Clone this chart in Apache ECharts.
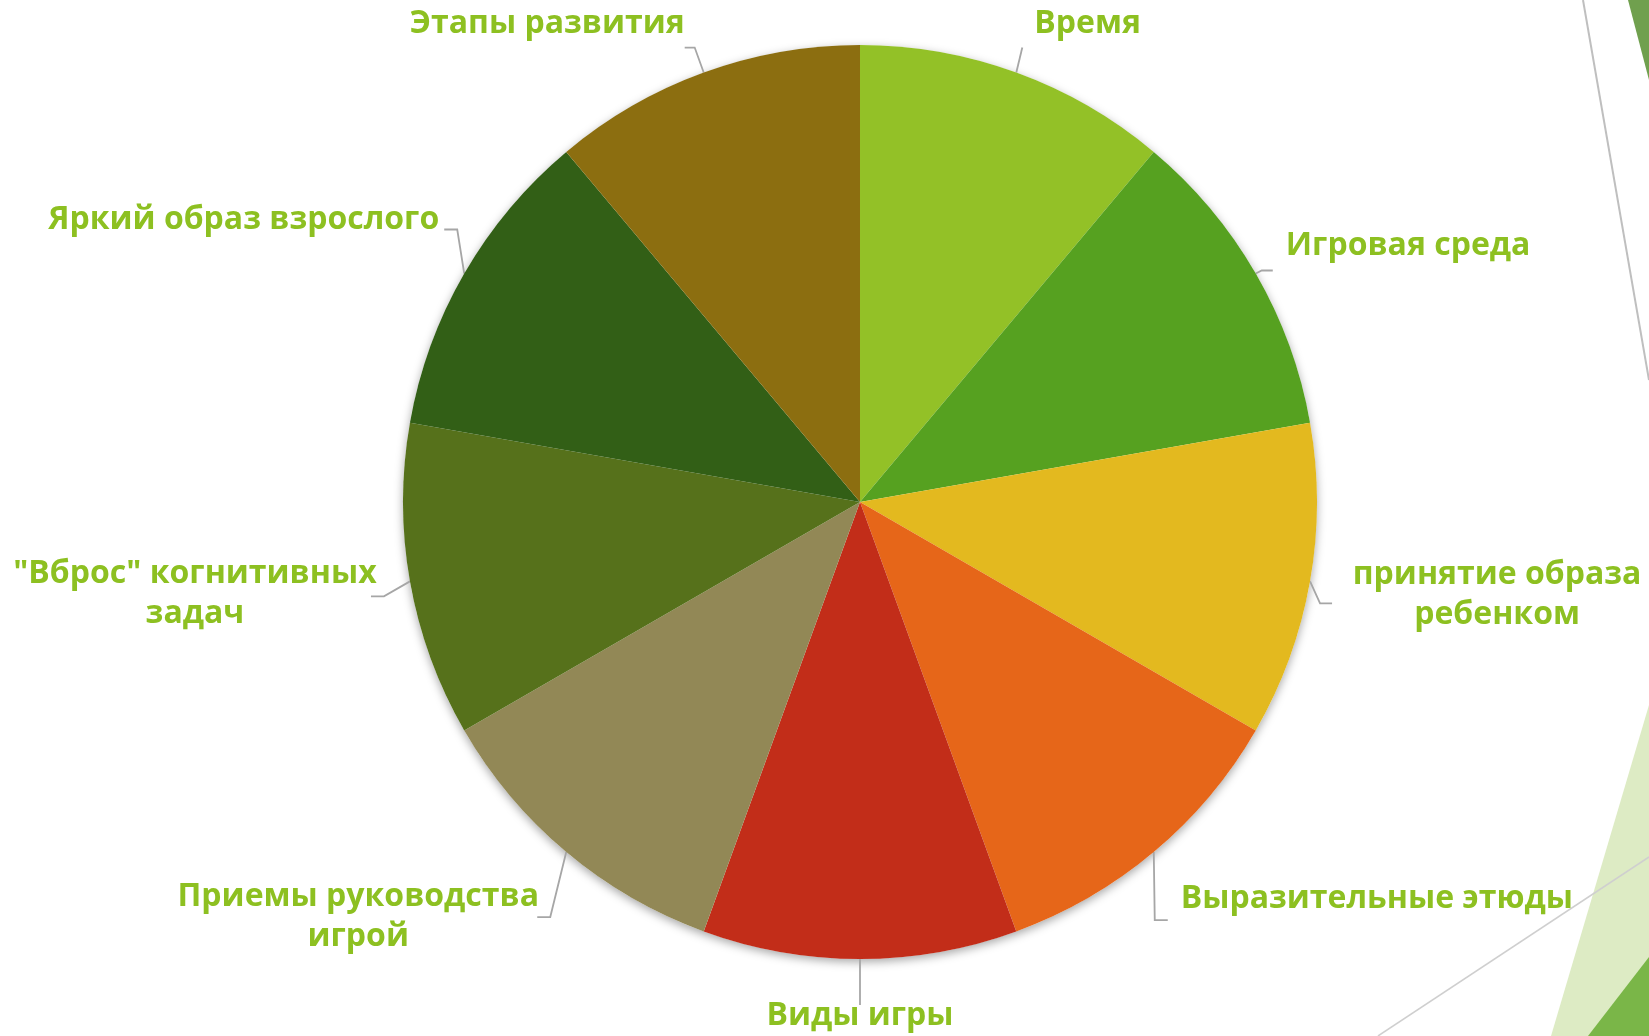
<!DOCTYPE html>
<html>
<head>
<meta charset="utf-8">
<script src="https://cdn.jsdelivr.net/npm/echarts@6/dist/echarts.min.js"></script>
<style>
  html, body { margin: 0; padding: 0; background: #fff; }
  #chart { width: 1649px; height: 1036px; }
</style>
</head>
<body>
<div id="chart"></div>
<script>
// категории (по часовой стрелке от 12 часов)
const categories = [
  'Время',
  'Игровая среда',
  'принятие образа\nребенком',
  'Выразительные этюды',
  'Виды игры',
  'Приемы руководства\nигрой',
  '"Вброс" когнитивных\nзадач',
  'Яркий образ взрослого',
  'Этапы развития'
];
// все доли равные
const values = [1, 1, 1, 1, 1, 1, 1, 1, 1];
const colors = [
  '#93C127', '#56A120', '#E3B91F', '#E66619', '#C22D19',
  '#928856', '#56711B', '#325F16', '#8C6E10'
];

// размещение подписей как в PowerPoint ("по ширине"):
// конец выноски относительно точки на дуге, длина горизонтального хвоста,
// сдвиг текста от конца выноски и выравнивание
const labelPlace = [
  { ex: 6,   ey: -25, h: 0,  tx: 12,   ty: -24, align: 'left' },
  { ex: 17,  ey: -3,  h: 11, tx: 13,   ty: -25, align: 'left' },
  { ex: 22,  ey: 22,  h: 12, tx: 165,  ty: -8,  align: 'center' },
  { ex: 14,  ey: 68,  h: 13, tx: 13,   ty: -21, align: 'left' },
  { ex: 0,   ey: 46,  h: 0,  tx: 0,    ty: 11,  align: 'center' },
  { ex: -29, ey: 65,  h: 13, tx: -179, ty: 0,   align: 'center' },
  { ex: -39, ey: 15,  h: 13, tx: -176, ty: -2,  align: 'center' },
  { ex: -20, ey: -44, h: 13, tx: -5,   ty: -10, align: 'right' },
  { ex: -19, ey: -25, h: 10, tx: 0,    ty: -24, align: 'right' }
];

const chart = echarts.init(document.getElementById('chart'));

const option = {
  backgroundColor: '#ffffff',
  animation: false,
  graphic: [
    // декор слайда справа
    { type: 'polygon', shape: { points: [[1628, 0], [1649, 0], [1649, 80]] }, style: { fill: '#70A04E' }, z: 0 },
    { type: 'line', shape: { x1: 1583, y1: 0, x2: 1649, y2: 380 }, style: { stroke: '#BFBFBF', lineWidth: 2 }, z: 0 },
    { type: 'polygon', shape: { points: [[1649, 705], [1551, 1036], [1649, 1036]] }, style: { fill: '#DDEBC4' }, z: 0 },
    { type: 'polygon', shape: { points: [[1649, 957], [1588, 1036], [1649, 1036]] }, style: { fill: '#7AB648' }, z: 0 },
    { type: 'line', shape: { x1: 1378, y1: 1036, x2: 1649, y2: 857 }, style: { stroke: '#CFCFCF', lineWidth: 1.5 }, z: 0 }
  ],
  series: [
    {
      // подложка для тени
      type: 'pie',
      silent: true,
      center: [860, 502],
      radius: 457,
      z: 1,
      label: { show: false },
      labelLine: { show: false },
      itemStyle: {
        color: '#ffffff',
        shadowBlur: 10,
        shadowColor: 'rgba(0,0,0,0.35)',
        shadowOffsetY: 3
      },
      data: [1]
    },
    {
      type: 'pie',
      center: [860, 502],
      radius: 457,
      startAngle: 90,
      z: 2,
      color: colors,
      avoidLabelOverlap: false,
      label: {
        show: true,
        position: 'outside',
        color: '#8DC021',
        fontFamily: '"Open Sans", sans-serif',
        fontWeight: 'bold',
        fontSize: 32,
        lineHeight: 40
      },
      labelLine: {
        show: true,
        length: 20,
        length2: 10,
        lineStyle: { color: '#A6A6A6', width: 1.8 }
      },
      labelLayout: function (params) {
        const p = labelPlace[params.dataIndex];
        const p0 = params.labelLinePoints[0];
        const end = [p0[0] + p.ex, p0[1] + p.ey];
        const side = p.ex >= 0 ? 1 : -1;
        const elbow = [end[0] - side * p.h, end[1]];
        return {
          x: end[0] + p.tx,
          y: end[1] + p.ty,
          align: p.align,
          verticalAlign: 'middle',
          labelLinePoints: [p0, elbow, end]
        };
      },
      data: categories.map((name, i) => ({ name: name, value: values[i] }))
    }
  ]
};

chart.setOption(option);
window.addEventListener('resize', () => chart.resize());
</script>
</body>
</html>
